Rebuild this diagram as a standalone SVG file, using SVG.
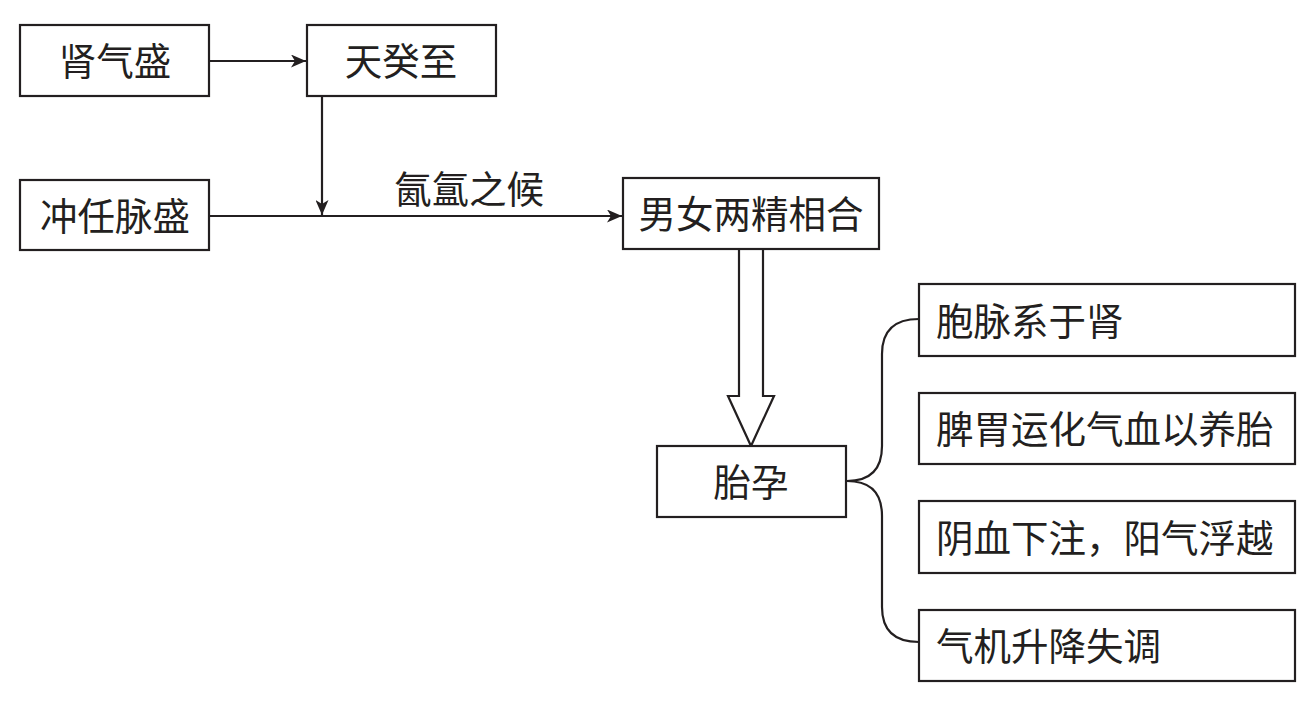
<svg xmlns="http://www.w3.org/2000/svg" width="1314" height="704" viewBox="0 0 1314 704">
<style>
.box{fill:#fff;stroke:#231f20;stroke-width:2.2}
.ln{fill:none;stroke:#231f20;stroke-width:2.2}
text{font-family:"Noto Sans CJK SC","Noto Sans",sans-serif;font-size:37.5px;fill:#231f20}
.c{text-anchor:middle}
</style>
<defs>
<marker id="ah" markerWidth="15" markerHeight="13" refX="15" refY="6.5" orient="auto" markerUnits="userSpaceOnUse">
<path d="M0,0 L15,6.5 L0,13 L4,6.5 Z" fill="#231f20"/>
</marker>
</defs>
<rect width="1314" height="704" fill="#fff"/>
<g id="connectors">
<line class="ln" x1="209" y1="61" x2="306" y2="61" marker-end="url(#ah)"/>
<line class="ln" x1="322" y1="96" x2="322" y2="215" marker-end="url(#ah)"/>
<line class="ln" x1="209" y1="216" x2="622" y2="216" marker-end="url(#ah)"/>
<text x="469" y="203" class="c">氤氲之候</text>
<path class="ln" d="M739,249 L739,396 L728,396 L751,446 L774,396 L763,396 L763,249"/>
<path class="ln" d="M919,319 C895,319 882,330 882,354 L882,446 C882,470 870,481 847,481 C870,481 882,492 882,516 L882,607 C882,631 895,642 919,642"/>
</g>
<g id="n1"><rect class="box" x="20" y="25" width="189" height="71"/><text x="115" y="75" class="c">肾气盛</text></g>
<g id="n2"><rect class="box" x="307" y="25" width="189" height="71"/><text x="401" y="75" class="c">天癸至</text></g>
<g id="n3"><rect class="box" x="20" y="180" width="189" height="70"/><text x="115" y="230" class="c">冲任脉盛</text></g>
<g id="n4"><rect class="box" x="623" y="178" width="256" height="71"/><text x="751" y="228" class="c">男女两精相合</text></g>
<g id="n5"><rect class="box" x="657" y="446" width="189" height="71"/><text x="751" y="496" class="c">胎孕</text></g>
<g id="n6"><rect class="box" x="919" y="284" width="376" height="72"/><text x="936" y="335">胞脉系于肾</text></g>
<g id="n7"><rect class="box" x="919" y="393" width="376" height="71"/><text x="936" y="443">脾胃运化气血以养胎</text></g>
<g id="n8"><rect class="box" x="919" y="501" width="376" height="72"/><text x="936" y="552">阴血下注，阳气浮越</text></g>
<g id="n9"><rect class="box" x="919" y="610" width="376" height="71"/><text x="936" y="660">气机升降失调</text></g>
</svg>
